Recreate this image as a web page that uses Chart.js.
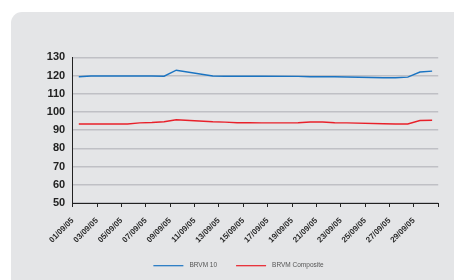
<!DOCTYPE html>
<html>
<head>
<meta charset="utf-8">
<script src="https://cdn.jsdelivr.net/npm/chart.js@4"></script>
<style>
  html, body { margin: 0; padding: 0; background: #ffffff; }
  #wrap { position: relative; width: 454px; height: 280px; overflow: hidden; }
  #panel { position: absolute; left: 11px; top: 12px; width: 460px; height: 280px;
           background: #e4e5e7; border-radius: 11px 0 0 11px; }
  #c { position: absolute; left: 0; top: 0; }
</style>
</head>
<body>
<div id="wrap">
  <div id="panel"></div>
  <canvas id="c" width="454" height="280"></canvas>
</div>
<script>
// Trading days of September 2005
const days = [1, 2, 5, 6, 7, 8, 9, 12, 13, 14, 15, 16, 19, 20, 21, 22, 23, 26, 27, 28, 29, 30];
const brvm10 = [119.3, 119.7, 119.7, 119.7, 119.7, 119.6, 122.9, 119.7, 119.6, 119.6, 119.6, 119.6,
                119.5, 119.3, 119.3, 119.3, 119.2, 118.8, 118.8, 119.1, 121.9, 122.4];
const brvmComposite = [93.4, 93.4, 93.4, 94.0, 94.2, 94.6, 95.7, 94.6, 94.4, 94.1, 94.1, 94.0,
                       94.1, 94.5, 94.5, 94.1, 94.0, 93.5, 93.4, 93.4, 95.3, 95.4];
const tickLabels = ['01/09/05', '03/09/05', '05/09/05', '07/09/05', '09/09/05', '11/09/05', '13/09/05',
                    '15/09/05', '17/09/05', '19/09/05', '21/09/05', '23/09/05', '25/09/05', '27/09/05',
                    '29/09/05', ''];
const seriesNames = ['BRVM 10', 'BRVM Composite'];
const seriesColors = ['#1b74c2', '#e8202a'];

const toPts = vals => vals.map((v, i) => ({ x: days[i], y: v }));

const legendPlugin = {
  id: 'bottomLegend',
  afterDraw(chart) {
    const ctx = chart.ctx;
    ctx.save();
    ctx.font = '6.5px "Liberation Sans"';
    const lineLen = 30, textGap = 6, itemGap = 19;
    const widths = seriesNames.map(n => ctx.measureText(n).width);
    const total = widths.reduce((a, w) => a + lineLen + textGap + w, 0) + itemGap * (seriesNames.length - 1);
    let x = 238.5 - total / 2;
    const y = 265.7;
    seriesNames.forEach((n, i) => {
      ctx.strokeStyle = seriesColors[i];
      ctx.lineWidth = 1.2;
      ctx.beginPath();
      ctx.moveTo(x, y);
      ctx.lineTo(x + lineLen, y);
      ctx.stroke();
      ctx.fillStyle = '#555';
      ctx.textBaseline = 'middle';
      ctx.textAlign = 'left';
      ctx.fillText(n, x + lineLen + textGap, y);
      x += lineLen + textGap + widths[i] + itemGap;
    });
    ctx.restore();
  }
};

new Chart(document.getElementById('c'), {
  type: 'line',
  data: {
    datasets: [
      { label: seriesNames[0], data: toPts(brvm10), borderColor: seriesColors[0], backgroundColor: seriesColors[0],
        borderWidth: 1.4, pointRadius: 0, tension: 0 },
      { label: seriesNames[1], data: toPts(brvmComposite), borderColor: seriesColors[1], backgroundColor: seriesColors[1],
        borderWidth: 1.4, pointRadius: 0, tension: 0 }
    ]
  },
  options: {
    responsive: false,
    animation: false,
    layout: { padding: { left: 38.3, right: 15.3, top: 57.3, bottom: 23.5 } },
    plugins: {
      tooltip: { enabled: false },
      legend: { display: false }
    },
    scales: {
      x: {
        type: 'linear', min: 0.5, max: 30.5,
        afterBuildTicks: axis => { axis.ticks = tickLabels.map((l, i) => ({ value: 2 * i + 0.5 })); },
        afterFit: axis => { axis.height = 53.5; },
        ticks: {
          autoSkip: false, maxRotation: 45, minRotation: 45, padding: 9,
          color: '#2a2a2a', font: { family: 'Liberation Sans', size: 8, weight: 'bold' },
          callback: (v, i) => tickLabels[i]
        },
        grid: { drawOnChartArea: false, drawTicks: true, tickLength: 4, color: '#222', lineWidth: 1 },
        border: { display: true, color: '#222', width: 1 }
      },
      y: {
        min: 50, max: 130,
        afterFit: axis => { axis.width = 34.4; },
        ticks: { stepSize: 10, padding: 7.5, color: '#222',
                 font: { family: 'Liberation Sans', size: 11, weight: 'bold' } },
        grid: { color: '#bfc0c5', lineWidth: 1.4, drawTicks: false },
        border: { display: true, color: '#222', width: 1 }
      }
    }
  },
  plugins: [legendPlugin]
});
</script>
</body>
</html>
